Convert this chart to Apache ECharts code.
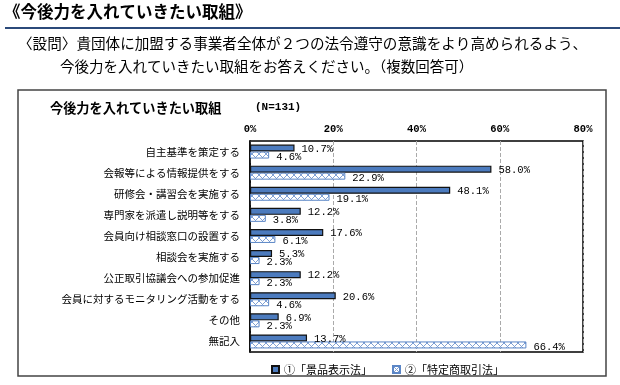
<!DOCTYPE html>
<html><head><meta charset="utf-8">
<script src="https://cdn.jsdelivr.net/npm/echarts@6/dist/echarts.min.js"></script>
<style>html,body{margin:0;padding:0;background:#fff}#c{width:620px;height:385px}</style>
</head><body><div id="c"></div>
<script>
const categories = ['自主基準を策定する','会報等による情報提供をする','研修会・講習会を実施する','専門家を派遣し説明等をする','会員向け相談窓口の設置する','相談会を実施する','公正取引協議会への参加促進','会員に対するモニタリング活動をする','その他','無記入'];
const seriesNames = ['①「景品表示法」','②「特定商取引法」'];
const keihin = [10.7,58.0,48.1,12.2,17.6,5.3,12.2,20.6,6.9,13.7];
const tokutei = [4.6,22.9,19.1,3.8,6.1,2.3,2.3,4.6,2.3,66.4];
const xTicks = [0,20,40,60,80];

const CJK = '"Noto Sans CJK JP","Noto Sans CJK SC",sans-serif';
const MONO = '"Liberation Mono","DejaVu Sans Mono",monospace';

function hatch(){
  const c = document.createElement('canvas');
  c.width = 7; c.height = 7;
  const g = c.getContext('2d');
  g.fillStyle = '#fff'; g.fillRect(0,0,7,7);
  g.strokeStyle = '#7FA0D4'; g.lineWidth = 1;
  g.beginPath(); g.moveTo(0,0); g.lineTo(7,7); g.moveTo(0,7); g.lineTo(7,0); g.stroke();
  return c;
}
const pat = {image: hatch(), repeat: 'repeat'};

const chart = echarts.init(document.getElementById('c'), null, {renderer:'canvas'});
chart.setOption({
  animation: false,
  backgroundColor: '#fff',
  graphic: [
    {type:'text', left: 4, top: 3, style:{text:'《今後力を入れていきたい取組》', font:'bold 16.5px '+CJK, fill:'#000'}},
    {type:'line', shape:{x1:5,y1:28,x2:620,y2:28}, style:{stroke:'#2B4A7A', lineWidth:2}},
    {type:'text', left: 18, top: 36, style:{text:'〈設問〉貴団体に加盟する事業者全体が２つの法令遵守の意識をより高められるよう、', font:'14.6px '+CJK, fill:'#000'}},
    {type:'text', left: 60, top: 59, style:{text:'今後力を入れていきたい取組をお答えください。（複数回答可）', font:'14.5px '+CJK, fill:'#000'}},
    {type:'rect', shape:{x:18,y:90,width:588,height:286}, style:{fill:'none', stroke:'#444', lineWidth:1.5}},
    {type:'text', left: 50, top: 101, style:{text:'今後力を入れていきたい取組', font:'bold 13.2px '+CJK, fill:'#000'}},
    {type:'text', left: 255, top: 102, style:{text:'(N=131)', font:'bold 11px '+MONO, fill:'#000'}}
  ],
  legend: {
    left: 266, top: 359, itemWidth: 7, itemHeight: 7, itemGap: 20, icon: 'rect',
    textStyle: {fontFamily: CJK, fontSize: 11, color:'#000'},
    data: seriesNames
  },
  grid: {left: 250, right: 37, top: 141, bottom: 33, show: true, borderColor:'#000', borderWidth:1.5, containLabel:false},
  xAxis: {
    type:'value', position:'top', min: xTicks[0], max: xTicks[xTicks.length-1], interval: 20,
    axisLine:{show:false}, axisTick:{show:false},
    axisLabel:{formatter:'{value}%', fontFamily: MONO, fontWeight:'bold', fontSize:10.5, color:'#000', margin:6},
    splitLine:{show:true, lineStyle:{color:'#aaa', type:'dashed', width:1}}
  },
  yAxis: {
    type:'category', inverse:true, data: categories,
    axisLine:{show:true, lineStyle:{color:'#000', width:1.5}}, axisTick:{show:false},
    axisLabel:{fontFamily: CJK, fontSize:10.5, color:'#000', margin:10}
  },
  series: [
    {name: seriesNames[0], type:'bar', data: keihin, barWidth:7, barGap:'0%',
     itemStyle:{color:'#4C7BBE', borderColor:'#111', borderWidth:1.2},
     label:{show:true, position:'right', distance:7, offset:[0,1], formatter: p => p.value.toFixed(1)+'%', fontFamily: MONO, fontSize:10.5, color:'#000'}},
    {name: seriesNames[1], type:'bar', data: tokutei, barWidth:7, barGap:'0%',
     itemStyle:{color: pat, borderColor:'#5B86C6', borderWidth:1},
     label:{show:true, position:'right', distance:7, offset:[0,2], formatter: p => p.value.toFixed(1)+'%', fontFamily: MONO, fontSize:10.5, color:'#000'}}
  ]
});
</script></body></html>
